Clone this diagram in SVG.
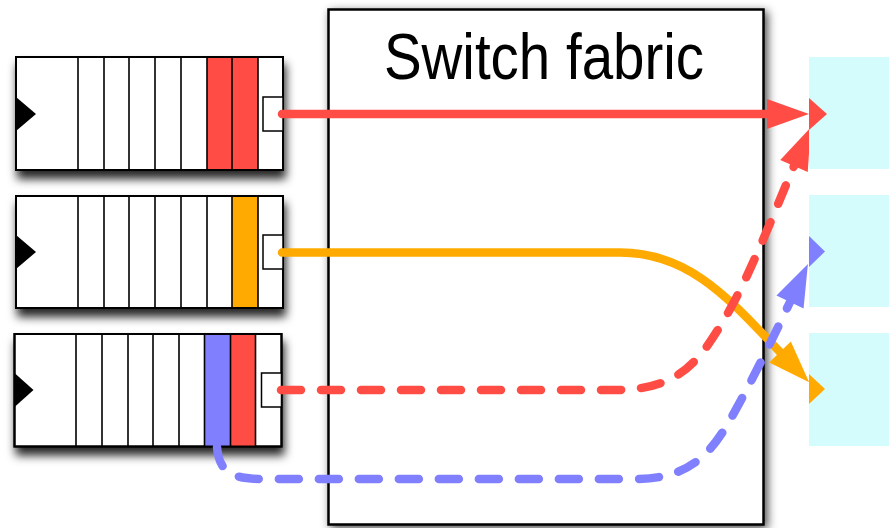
<svg xmlns="http://www.w3.org/2000/svg" width="889" height="528" viewBox="0 0 889 528">
  <defs>
    <filter id="queueShadow" x="-10%" y="-20%" width="130%" height="160%">
      <feDropShadow dx="2" dy="8" stdDeviation="5" flood-color="#000" flood-opacity="0.85"/>
    </filter>
    <filter id="fabricShadow" x="-10%" y="-10%" width="120%" height="120%">
      <feDropShadow dx="3" dy="3" stdDeviation="5" flood-color="#000" flood-opacity="0.7"/>
    </filter>
    <marker id="headRed" markerUnits="userSpaceOnUse" viewBox="0 -16 44 32" markerWidth="44" markerHeight="32" refX="0" refY="0" orient="auto" overflow="visible">
      <path d="M0,-15 L42,0 L0,15 z" fill="#ff4d45"/>
    </marker>
    <marker id="headOrange" markerUnits="userSpaceOnUse" viewBox="0 -16 44 32" markerWidth="44" markerHeight="32" refX="0" refY="0" orient="auto" overflow="visible">
      <path d="M0,-15 L42,0 L0,15 z" fill="#ffaa00"/>
    </marker>
    <marker id="headBlue" markerUnits="userSpaceOnUse" viewBox="0 -16 44 32" markerWidth="44" markerHeight="32" refX="0" refY="0" orient="auto" overflow="visible">
      <path d="M0,-15 L42,0 L0,15 z" fill="#8080ff"/>
    </marker>
  </defs>
  <style>
    .qframe { fill: #fff; stroke: #000; stroke-width: 2; filter: url(#queueShadow); }
    .qdiv { fill: none; stroke: #000; stroke-width: 1.6; }
    .qout { fill: #fff; stroke: #000; stroke-width: 1.5; }
    .cell { stroke: none; }
    .red { fill: #ff4d45; }
    .orange { fill: #ffaa00; }
    .blue { fill: #8080ff; }
    .port { fill: #d4fcfd; }
    .link { fill: none; stroke-width: 8.5; stroke-linecap: round; stroke-linejoin: round; }
    .dash { stroke-dasharray: 20 20; }
    .label { font-family: "Liberation Sans", Arial, Helvetica, sans-serif; font-size: 56.5px; fill: #000; }
  </style>

  <!-- input queues -->
  <g id="queue1" transform="translate(16,57)">
    <rect class="qframe" x="0" y="0" width="267" height="113"/>
    <rect class="cell red" x="191" y="0" width="25" height="113"/>
    <rect class="cell red" x="216" y="0" width="26" height="113"/>
    <path class="qdiv" d="M62,0V113M88,0V113M113,0V113M139,0V113M165,0V113M191,0V113M216,0V113M242,0V113"/>
    <rect x="0" y="0" width="267" height="113" fill="none" stroke="#000" stroke-width="2"/>
    <rect class="qout" x="247" y="40" width="20" height="34"/>
    <polygon points="0,40 20,57 0,74" fill="#000"/>
  </g>
  <g id="queue2" transform="translate(16,196)">
    <rect class="qframe" x="0" y="0" width="267" height="112"/>
    <rect class="cell orange" x="216" y="0" width="26" height="112"/>
    <path class="qdiv" d="M62,0V112M88,0V112M113,0V112M139,0V112M165,0V112M191,0V112M216,0V112M242,0V112"/>
    <rect x="0" y="0" width="267" height="112" fill="none" stroke="#000" stroke-width="2"/>
    <rect class="qout" x="247" y="39" width="20" height="34"/>
    <polygon points="0,39 20,56 0,73" fill="#000"/>
  </g>
  <g id="queue3" transform="translate(14.5,334)">
    <rect class="qframe" x="0" y="0" width="267" height="112.5"/>
    <rect class="cell blue" x="190" y="0" width="26" height="112.5"/>
    <rect class="cell red" x="216" y="0" width="25" height="112.5"/>
    <path class="qdiv" d="M61.5,0V112.5M87.5,0V112.5M113.5,0V112.5M138.5,0V112.5M164.5,0V112.5M190,0V112.5M216,0V112.5M241,0V112.5"/>
    <rect x="0" y="0" width="267" height="112.5" fill="none" stroke="#000" stroke-width="2"/>
    <rect class="qout" x="247" y="39" width="20" height="34"/>
    <polygon points="0,39 19,56 0,73" fill="#000"/>
  </g>

  <!-- switch fabric -->
  <g id="fabric">
    <rect x="328.5" y="9.5" width="435" height="515" fill="#fff" stroke="#000" stroke-width="2.5" filter="url(#fabricShadow)"/>
    <text class="label" x="544" y="0" text-anchor="middle" transform="translate(0,79) scale(1,1.16)">Switch fabric</text>
  </g>

  <!-- connectors -->
  <g id="connectors">
    <path class="link" stroke="#ff4d45" d="M282,114 H767" marker-end="url(#headRed)"/>
    <path class="link" stroke="#ffaa00" d="M282,252.5 H620 C690,252.5 730,300 780,352" marker-end="url(#headOrange)"/>
    <path class="link dash" stroke="#ff4d45" d="M281,390 H615 C680,390 700,360 725,318 C750,276 775,210 794,166" marker-end="url(#headRed)"/>
    <path class="link dash" stroke="#8080ff" d="M217,447 C219,472 232,479 262,479 H635 C688,479 710,455 730,420 C750,385 773,338 790,302" marker-end="url(#headBlue)"/>
  </g>

  <!-- output ports -->
  <g id="out1">
    <rect class="port" x="809" y="57" width="80" height="112"/>
    <polygon class="red" points="809,98 827,114 809,130"/>
  </g>
  <g id="out2">
    <rect class="port" x="809" y="195" width="80" height="112"/>
    <polygon class="blue" points="809,236 825,251.5 809,267"/>
  </g>
  <g id="out3">
    <rect class="port" x="809" y="333" width="80" height="113"/>
    <polygon class="orange" points="809,374 825,389 809,404"/>
  </g>
</svg>
